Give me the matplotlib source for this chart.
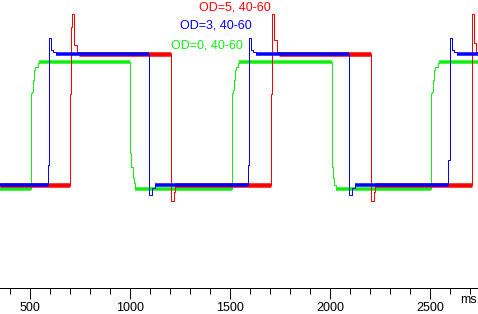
import matplotlib
matplotlib.use('AGG')
import matplotlib.pyplot as plt
from matplotlib.ticker import MultipleLocator

# response traces, time (ms) and brightness level (arbitrary units)
green_t = [348, 502, 510, 515, 520, 525, 537, 542, 1000, 1004, 1012, 1016, 1022,
           1506, 1512, 1517, 1522, 1528, 1540, 1545, 2006, 2012, 2020, 2026,
           2503, 2510, 2515, 2520, 2525, 2537, 2542, 2738]
green_v = [99, 195, 196, 208, 218, 221, 225, 226, 135, 121, 110, 105, 99,
           195, 198, 208, 218, 221, 225, 226, 121, 110, 103, 99,
           195, 196, 208, 218, 221, 225, 226, 226]

blue_t = [348, 590, 595, 605, 615, 630, 1095, 1110, 1125,
          1590, 1595, 1605, 1615, 1630, 2095, 2110, 2125,
          2590, 2600, 2610, 2620, 2635, 2738]
blue_v = [103, 123, 250, 238, 236, 234, 93, 100, 103,
          123, 250, 238, 236, 234, 93, 100, 103,
          128, 250, 238, 236, 234, 234]

red_t = [348, 700, 704, 708, 718, 735, 745, 1205, 1220, 1225,
         1702, 1706, 1710, 1720, 1735, 1745, 2205, 2220, 2225,
         2707, 2710, 2718, 2730, 2738]
red_v = [103, 194, 261, 274, 243, 236, 234, 87, 96, 103,
         194, 261, 274, 248, 236, 234, 87, 96, 103,
         194, 274, 245, 236, 236]

# plateau levels where the traces ripple (drawn as a band)
green_levels = [226, 99]
blue_levels = [234, 103]
red_levels = [234, 103]

labels = ['OD=0, 40-60', 'OD=3, 40-60', 'OD=5, 40-60']
colors = ['#10f010', '#0000ff', '#ff0000']

W, H = 478, 314
fig = plt.figure(figsize=(W / 100, H / 100), dpi=100)
ax = fig.add_axes([0, (H - 288) / H, 1, 288 / H])
px = 72 / 100  # one pixel in points

series = [(green_t, green_v, green_levels, colors[0], 3.5),
          (red_t, red_v, red_levels, colors[2], 4.5),
          (blue_t, blue_v, blue_levels, colors[1], 3.5)]
for t, v, lev, c, band in series:
    ax.plot(t, v, drawstyle='steps-post', color=c, lw=px, solid_capstyle='butt')
    # ripple band on each plateau
    for i in range(len(t) - 1):
        if v[i] in lev:
            ax.hlines(v[i], t[i], t[i + 1], color=c, lw=band * px)

ax.set_xlim(348, 2738)
ax.set_ylim(0, 288)
for s in ['top', 'left', 'right']:
    ax.spines[s].set_visible(False)
ax.spines['bottom'].set_linewidth(px)
ax.set_yticks([])
ax.xaxis.set_major_locator(MultipleLocator(500))
ax.xaxis.set_minor_locator(MultipleLocator(100))
ax.tick_params(axis='x', which='major', length=11 * px, width=px, pad=2,
               labelsize=9, labelfontfamily='Liberation Sans')
ax.tick_params(axis='x', which='minor', length=6 * px, width=px)

fig.text(460 / W, (H - 303) / H, 'ms', fontsize=9, family='Liberation Sans', va='baseline')
fig.text(199 / W, (H - 10) / H, labels[2], color=colors[2], fontsize=9, family='Liberation Sans', va='baseline')
fig.text(180 / W, (H - 29) / H, labels[1], color=colors[1], fontsize=9, family='Liberation Sans', va='baseline')
fig.text(171 / W, (H - 48) / H, labels[0], color=colors[0], fontsize=9, family='Liberation Sans', va='baseline')

plt.savefig('out.png', dpi=100)
